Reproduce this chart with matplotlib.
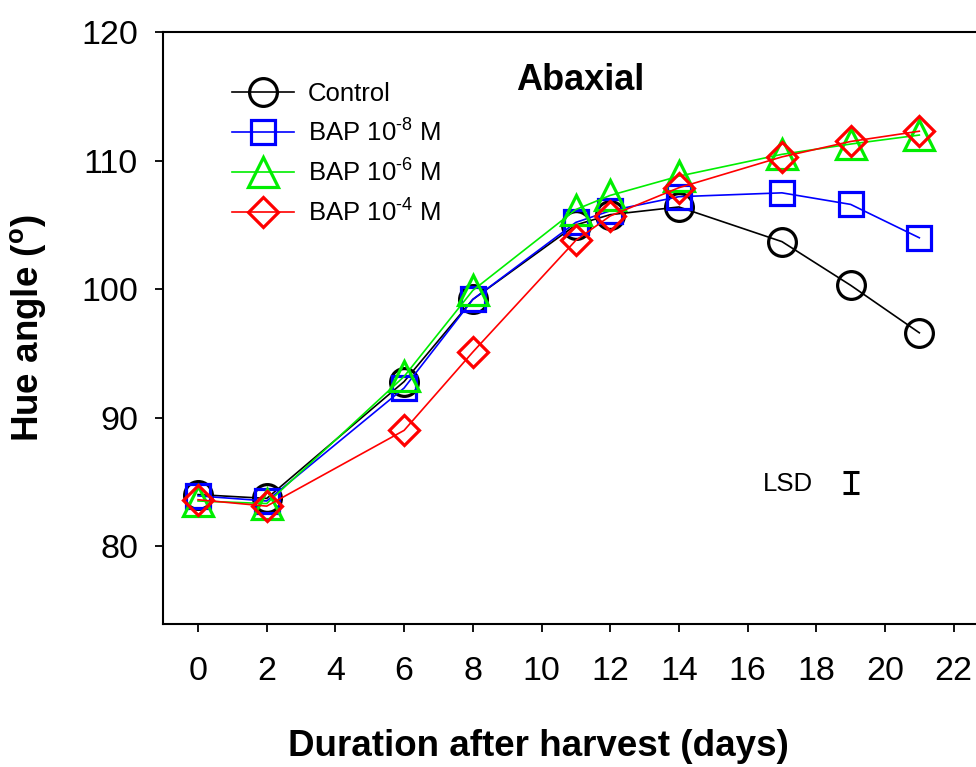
import matplotlib
matplotlib.use("Agg")
import matplotlib.pyplot as plt

plt.rcParams["font.family"] = ["Liberation Sans", "DejaVu Sans"]
plt.rcParams["mathtext.fontset"] = "custom"
plt.rcParams["mathtext.rm"] = "Liberation Sans"
plt.rcParams["mathtext.bf"] = "Liberation Sans:bold"

# days after harvest
days = [0, 2, 6, 8, 11, 12, 14, 17, 19, 21]
control = [84.0, 83.7, 92.8, 99.2, 105.0, 105.8, 106.4, 103.7, 100.3, 96.6]
bap_e8 = [83.9, 83.5, 92.3, 99.2, 105.2, 106.1, 107.2, 107.5, 106.6, 104.0]
bap_e6 = [83.5, 83.3, 93.2, 99.9, 106.2, 107.3, 108.8, 110.5, 111.3, 112.0]
bap_e4 = [83.6, 83.1, 89.0, 95.1, 103.8, 105.7, 107.9, 110.3, 111.5, 112.3]
labels = ["Control", r"BAP 10$^{\text{-8}}$ M", r"BAP 10$^{\text{-6}}$ M", r"BAP 10$^{\text{-4}}$ M"]
xticks = list(range(0, 23, 2))
yticks = [80, 90, 100, 110, 120]
lsd_x, lsd_y, lsd_half = 19, 84.95, 0.84

W, H = 976, 767
fig = plt.figure(figsize=(W / 100, H / 100), dpi=100)
ax = fig.add_axes([163 / W, 143 / H, (W - 163) / W, (624 - 31.7) / H])

series = [
    (control, "black", "o", 20),
    (bap_e8, "blue", "s", 17),
    (bap_e6, "#00ee00", "^", 21),
    (bap_e4, "red", "D", 15),
]
for (vals, c, m, ms), lab in zip(series, labels):
    ax.plot(days, vals, color=c, lw=1.2, marker=m, ms=ms, mfc="none",
            mec=c, mew=2.3, label=lab)

ax.errorbar([lsd_x], [lsd_y], yerr=[lsd_half], fmt="none", ecolor="black",
            elinewidth=2.2, capsize=6, capthick=2.2)
ax.text(17.9, lsd_y - 0.15, "LSD", ha="right", va="center", fontsize=18.5)

ax.set_xlim(-1.02, 22.65)
ax.set_ylim(73.92, 120.05)
ax.set_xticks(xticks)
ax.set_yticks(yticks)
ax.tick_params(axis="both", direction="out", length=6, width=1.3, labelsize=24.5)
ax.tick_params(axis="x", pad=17)
ax.tick_params(axis="y", pad=12)
ax.spines["right"].set_visible(False)
for s in ["left", "bottom", "top"]:
    ax.spines[s].set_linewidth(1.5)

leg = ax.legend(loc="upper left", bbox_to_anchor=((232 - 163) / (W - 163), 1 - (82 - 31.7) / (624 - 31.7)),
                frameon=False, fontsize=18.5, handlelength=2.4, handletextpad=0.55,
                labelspacing=0.47, borderpad=0, borderaxespad=0)

fig.text(580 / W, 1 - 80 / H, "Abaxial", ha="center", va="center",
         fontsize=26, fontweight="bold")
fig.text(538 / W, 1 - 746 / H, "Duration after harvest (days)", ha="center",
         va="center", fontsize=26.5, fontweight="bold")
fig.text(29 / W, 1 - 328 / H, r"Hue angle ($^{\mathbf{o}}$)", ha="center", va="center",
         rotation=90, fontsize=26.5, fontweight="bold")

fig.savefig("out.png", dpi=100)
